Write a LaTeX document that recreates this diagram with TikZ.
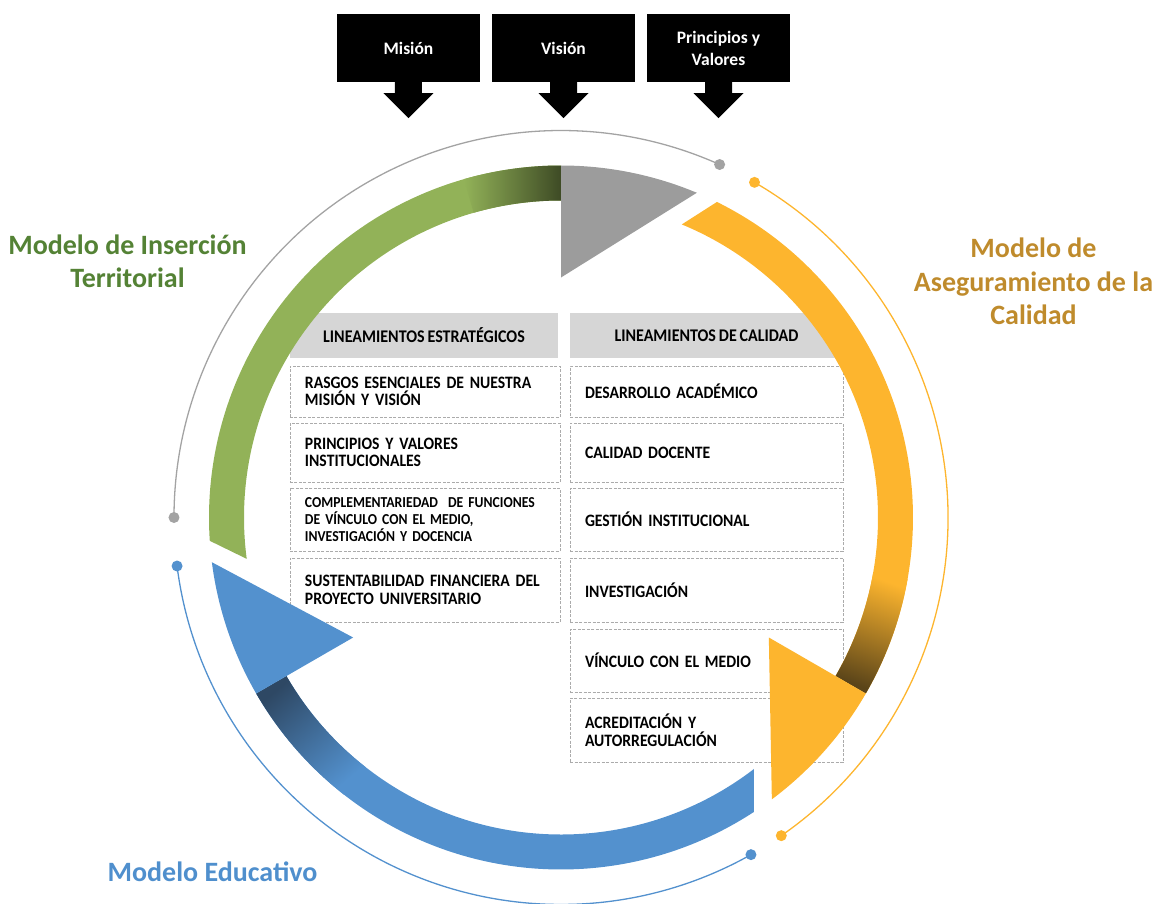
\documentclass[tikz,border=0pt]{standalone}
\usepackage{fontspec}
\setmainfont{Carlito}
\newfontfamily\cellfont[FakeStretch=0.9, WordSpace=0.8]{Carlito}
\definecolor{ringgreen}{HTML}{92B258}
\definecolor{ringgreendark}{HTML}{3E4B25}
\definecolor{ringgrey}{HTML}{9C9C9C}
\definecolor{ringorange}{HTML}{FDB52E}
\definecolor{ringbrown}{HTML}{5A4419}
\definecolor{ringblue}{HTML}{5391CE}
\definecolor{ringbluedark}{HTML}{2E4864}
\definecolor{arcgrey}{HTML}{A3A3A3}
\definecolor{headgrey}{HTML}{D6D6D6}
\definecolor{cellgrey}{HTML}{ABABAB}
\definecolor{titlegreen}{HTML}{548235}
\definecolor{titlegold}{HTML}{BF8B2C}
\definecolor{titleblue}{HTML}{4F8FCD}
\begin{document}
\begin{tikzpicture}[x=1pt,y=1pt]
  \tikzstyle{topbox}=[rectangle, fill=black, text=white, minimum width=143pt, minimum height=68pt, inner sep=0pt, align=center, font=\bfseries\fontsize{17.5}{22}\selectfont]
  \tikzstyle{head}=[rectangle, fill=headgrey, minimum height=45pt, inner sep=0pt, font=\cellfont\bfseries\fontsize{17.8}{18}\selectfont]
  \tikzstyle{cell}=[rectangle, draw=cellgrey, dash pattern=on 3pt off 1.5pt, line width=0.7pt, fill=white, inner xsep=15pt, inner ysep=0pt, align=left, font=\cellfont\bfseries\fontsize{17.4}{17.7}\selectfont]
  \tikzstyle{leftcell}=[cell, text width=240pt]
  \tikzstyle{rightcell}=[cell, text width=243pt]
  \tikzstyle{small}=[font=\cellfont\bfseries\fontsize{15.2}{16.7}\selectfont]
  \tikzstyle{title}=[align=center, inner sep=0pt, font=\bfseries\fontsize{28}{33.5}\selectfont]
  \tikzstyle{guide}=[line width=1.3pt]
  \def\rout{352}
  \def\rin{317}
  \def\rbase{240}
  \def\rthin{387}

  \useasboundingbox (-561,-385.5) rectangle (595,517.5);

  \node[topbox] (mision)  at (-152.5,469.5) {Misión};
  \node[topbox] (vision)  at (2.5,469.5)    {Visión};
  \node[topbox] (valores) at (157.5,469.5)  {Principios y\\Valores};
  \foreach \b in {mision,vision,valores}
    \fill (\b.south) ++(-13.5,0) -- ++(0,-11) -- ++(-11.5,0) -- ++(25,-25) -- ++(25,25) -- ++(-11.5,0) -- ++(0,11) -- cycle;

  \node[head, minimum width=268pt] (lineest) at (-137,182)  {LINEAMIENTOS ESTRATÉGICOS};
  \node[head, minimum width=273pt] (linecal) at (145.5,182) {LINEAMIENTOS DE CALIDAD};

  \node[leftcell, minimum height=51pt] (est1) at (-136,126)   {RASGOS ESENCIALES DE NUESTRA\\MISIÓN Y VISIÓN};
  \node[leftcell, minimum height=59pt] (est2) at (-136,65)    {PRINCIPIOS Y VALORES\\INSTITUCIONALES};
  \node[leftcell, small, minimum height=63pt] (est3) at (-136,-2) {COMPLEMENTARIEDAD\ \ DE FUNCIONES\\DE VÍNCULO CON EL MEDIO,\\INVESTIGACIÓN Y DOCENCIA};
  \node[leftcell, minimum height=64pt] (est4) at (-136,-72.5) {SUSTENTABILIDAD FINANCIERA DEL\\PROYECTO UNIVERSITARIO};

  \node[rightcell, minimum height=51pt] (cal1) at (145.5,126)    {DESARROLLO ACADÉMICO};
  \node[rightcell, minimum height=59pt] (cal2) at (145.5,65)     {CALIDAD DOCENTE};
  \node[rightcell, minimum height=63pt] (cal3) at (145.5,-2)     {GESTIÓN INSTITUCIONAL};
  \node[rightcell, minimum height=64pt] (cal4) at (145.5,-72.5)  {INVESTIGACIÓN};
  \node[rightcell, minimum height=63pt] (cal5) at (145.5,-143)   {VÍNCULO CON EL MEDIO};
  \node[rightcell, minimum height=64pt] (cal6) at (145.5,-212.5) {ACREDITACIÓN Y\\AUTORREGULACIÓN};

  \fill[ringgreen] (183.8:\rout) arc[start angle=183.8, end angle=90, radius=\rout] -- (90:\rin) arc[start angle=90, end angle=187.5, radius=\rin] -- cycle;
  \shade[left color=ringgreen, right color=ringgreendark] (106:\rout) arc[start angle=106, end angle=90, radius=\rout] -- (90:\rin) arc[start angle=90, end angle=106, radius=\rin] -- cycle;
  \fill[ringgrey] (90:\rbase) -- (90:\rout) arc[start angle=90, end angle=67.3, radius=\rout] -- cycle;

  \fill[ringorange] (63.7:\rout) arc[start angle=63.7, end angle=-30, radius=\rout] -- (-30:\rin) arc[start angle=-30, end angle=67.6, radius=\rin] -- cycle;
  \shade[top color=ringorange, bottom color=ringbrown, shading angle=-20] (-10:\rout) arc[start angle=-10, end angle=-30, radius=\rout] -- (-30:\rin) arc[start angle=-30, end angle=-10, radius=\rin] -- cycle;
  \fill[ringorange] (-30:\rbase) -- (-30:\rout) arc[start angle=-30, end angle=-53.2, radius=\rout] -- cycle;

  \fill[ringblue] (303.25:\rout) arc[start angle=303.25, end angle=210, radius=\rout] -- (210:\rin) arc[start angle=210, end angle=307.5, radius=\rin] -- cycle;
  \shade[top color=ringbluedark, bottom color=ringblue, shading angle=40] (232:\rout) arc[start angle=232, end angle=210, radius=\rout] -- (210:\rin) arc[start angle=210, end angle=232, radius=\rin] -- cycle;
  \fill[ringblue] (210:\rbase) -- (210:\rout) arc[start angle=210, end angle=187.3, radius=\rout] -- cycle;

  \draw[guide, arcgrey] (180:\rthin) arc[start angle=180, end angle=65.8, radius=\rthin];
  \fill[arcgrey] (180:\rthin) circle (5.5) (65.8:\rthin) circle (5.5);
  \draw[guide, ringorange] (60:\rthin) arc[start angle=60, end angle=-55.3, radius=\rthin];
  \fill[ringorange] (60:\rthin) circle (5.5) (-55.3:\rthin) circle (5.5);
  \draw[guide, ringblue] (187.2:\rthin) arc[start angle=187.2, end angle=299.4, radius=\rthin];
  \fill[ringblue] (187.2:\rthin) circle (5.5) (299.4:\rthin) circle (5.5);

  \node[title, text=titlegreen] (insercion) at (-433.5,256)    {Modelo de Inserción\\Territorial};
  \node[title, text=titlegold]  (calidad)   at (472.5,236)     {Modelo de\\Aseguramiento de la\\Calidad};
  \node[title, text=titleblue]  (educativo) at (-348.5,-354.5) {Modelo Educativo};
\end{tikzpicture}
\end{document}
